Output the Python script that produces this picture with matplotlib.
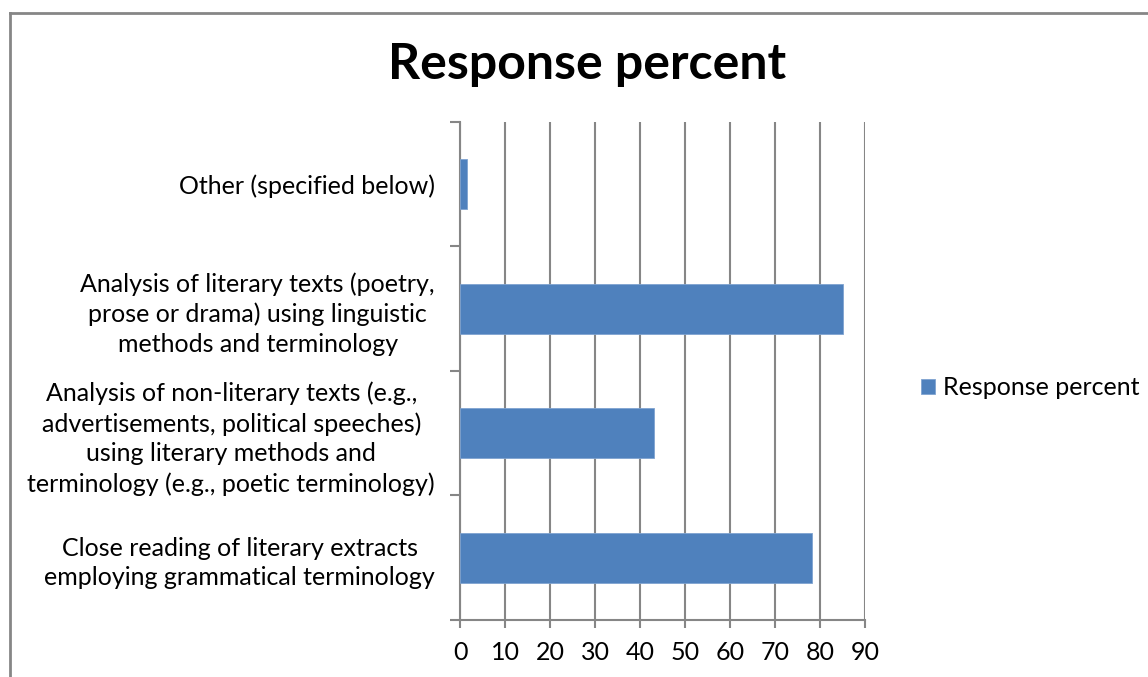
import numpy as np
import matplotlib
matplotlib.use('Agg')
from matplotlib import pyplot as plt
from matplotlib.lines import Line2D

# data, bottom to top as drawn
categories = [
    'Close reading of literary extracts\nemploying grammatical terminology',
    'Analysis of non-literary texts (e.g.,\nadvertisements, political speeches)\nusing literary methods and\nterminology (e.g., poetic terminology)',
    'Analysis of literary texts (poetry,\nprose or drama) using linguistic\nmethods and terminology',
    'Other (specified below)',
]
values = [78.2, 43.0, 85.0, 1.5]
series_name = 'Response percent'
xticks = list(range(0, 100, 10))

plt.rcParams['font.family'] = ['Lato', 'DejaVu Sans']
grey = '#868686'
blue = '#4F81BD'

fig = plt.figure(figsize=(11.48, 6.77), dpi=100)
ax = fig.add_axes([0.4007, 0.0842, 0.7535 - 0.4007, 0.8198 - 0.0842])

y = np.arange(len(categories))
ax.barh(y, values, height=0.4, color=blue, edgecolor='#7fa3d0', linewidth=0.6,
        label=series_name, zorder=3)

ax.set_xlim(0, 90)
ax.set_ylim(-0.5, len(categories) - 0.5)
ax.set_xticks(xticks)
ax.set_xticklabels([str(t) for t in xticks], fontsize=18)
ax.set_yticks(y)
ax.set_yticklabels(categories, fontsize=18, ha='right', multialignment='center',
                   linespacing=1.35)
ax.set_yticks(np.arange(-0.5, len(categories), 1.0), minor=True)

ax.tick_params(axis='y', which='major', length=0, pad=18)
ax.tick_params(axis='y', which='minor', length=7, width=1.5, color=grey)
ax.tick_params(axis='x', which='major', length=6, width=1.5, color=grey, pad=9)

ax.grid(axis='x', color=grey, linewidth=1.5, zorder=0)
for side in ['top', 'right']:
    ax.spines[side].set_visible(False)
for side in ['left', 'bottom']:
    ax.spines[side].set_color(grey)
    ax.spines[side].set_linewidth(1.5)

fig.text(0.511, 0.905, series_name, ha='center', va='center',
         fontsize=36, fontweight='bold')

fig.legend(loc='center left', bbox_to_anchor=(0.783, 0.427), frameon=False,
           fontsize=18, handlelength=0.55, handleheight=0.55, handletextpad=0.3)

# outer chart border (only left and top visible in the crop)
fig.add_artist(Line2D([10 / 1148, 10 / 1148], [0, 1 - 13 / 677],
                      transform=fig.transFigure, color=grey, linewidth=2))
fig.add_artist(Line2D([10 / 1148, 1], [1 - 13 / 677, 1 - 13 / 677],
                      transform=fig.transFigure, color=grey, linewidth=2))

fig.savefig('out.png', dpi=100)
